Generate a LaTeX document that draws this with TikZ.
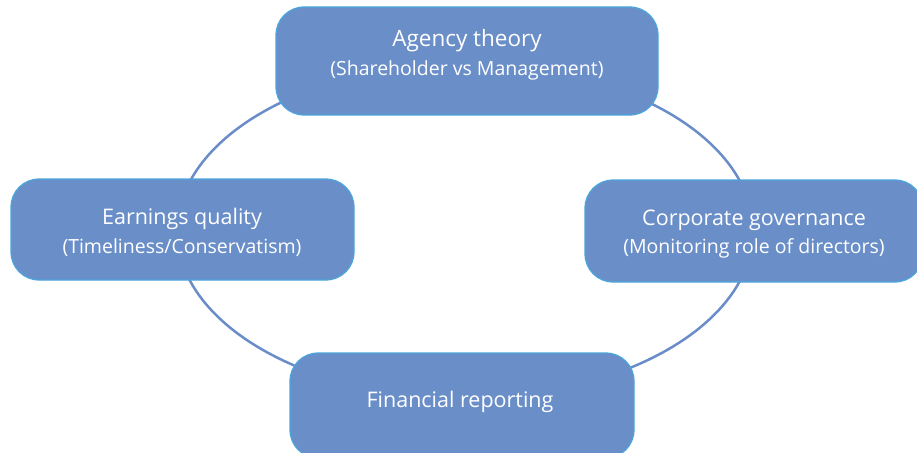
\documentclass[tikz,border=0pt]{standalone}
\usepackage{fontspec}
\setmainfont{Open Sans}
\begin{document}
\begin{tikzpicture}[x=1pt,y=-1pt,
  cyclebox/.style={draw=boxedge, line width=1.2pt, fill=boxfill, rounded corners=28pt},
  boxtext/.style={text=white, anchor=base, inner sep=0pt},
  headline/.style={boxtext, font=\fontsize{21.5}{25}\selectfont},
  subline/.style={boxtext, font=\fontsize{19.5}{23}\selectfont},
  loop/.style={draw=loopline, line width=2.5pt}]
\definecolor{boxfill}{HTML}{6A8EC8}
\definecolor{boxedge}{HTML}{4BA6DC}
\definecolor{loopline}{HTML}{6A8CC8}
\useasboundingbox (0,0) rectangle (917,452);
\clip (0,0) rectangle (917,452);
% connecting cycle behind the boxes
\coordinate (c) at (465,231);
\draw[loop] (c) ellipse [x radius=288pt, y radius=167pt];
% boxes
\path[cyclebox] (276,7) rectangle (658,115);
\node[minimum size=0pt] (agency) at (467,61) {};
\path[cyclebox] (11,179) rectangle (354,280);
\node[minimum size=0pt] (earnings) at (182,230) {};
\path[cyclebox] (585,180) rectangle (923,282);
\node[minimum size=0pt] (governance) at (754,231) {};
\path[cyclebox] (290,353) rectangle (634,458);
\node[minimum size=0pt] (reporting) at (462,405) {};
% labels
\node[headline, font=\fontsize{22.5}{26}\selectfont] (agencyA) at (467,47) {Agency theory};
\node[subline] (agencyB) at (467,75) {(Shareholder vs Management)};
\node[headline] (earningsA) at (182,224) {Earnings quality};
\node[subline] (earningsB) at (182,253) {(Timeliness/Conservatism)};
\node[headline] (governanceA) at (754,225) {Corporate governance};
\node[subline] (governanceB) at (754,253) {(Monitoring role of directors)};
\node[headline] (reportingA) at (460,407) {Financial reporting};
\end{tikzpicture}
\end{document}
